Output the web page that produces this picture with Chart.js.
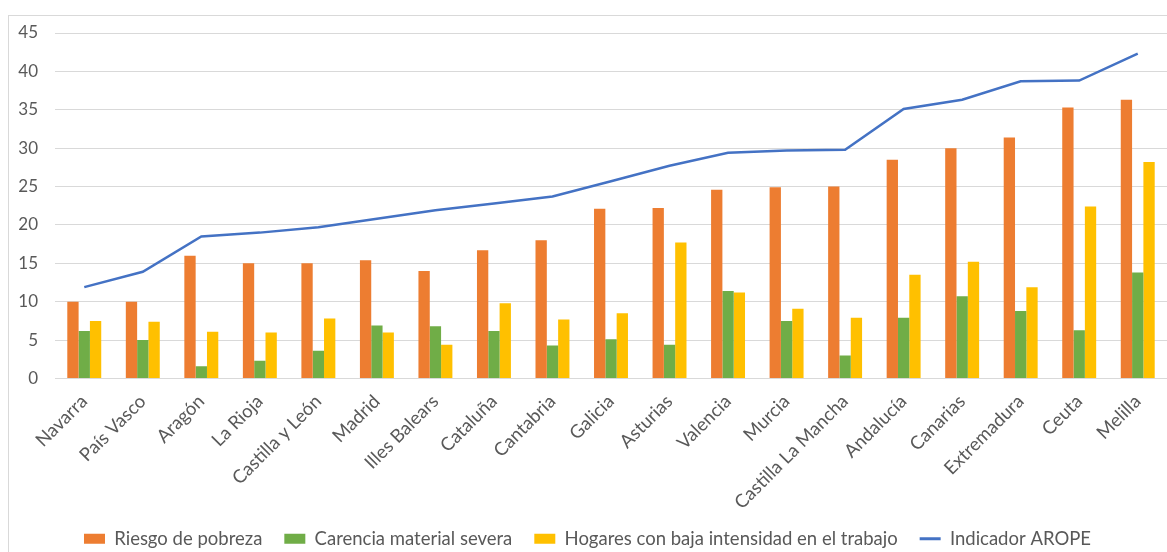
<!DOCTYPE html>
<html>
<head>
<meta charset="utf-8">
<script src="https://cdn.jsdelivr.net/npm/chart.js@4/dist/chart.umd.min.js"></script>
<style>
  html, body { margin: 0; padding: 0; background: #fff; }
  #wrap { position: relative; width: 1167px; height: 552px; overflow: hidden; }
  #frame { position: absolute; left: 8px; top: 15px; width: 1300px; height: 700px;
           border: 1px solid #d9d9d9; box-sizing: border-box; }
  canvas { position: absolute; left: 0; top: 0; }
</style>
</head>
<body>
<div id="wrap">
  <div id="frame"></div>
  <canvas id="chart" width="1167" height="562"></canvas>
</div>
<script>
// Comunidades autónomas, ordered by the AROPE indicator
var regiones = ['Navarra', 'País Vasco', 'Aragón', 'La Rioja', 'Castilla y León', 'Madrid',
  'Illes Balears', 'Cataluña', 'Cantabria', 'Galicia', 'Asturias', 'Valencia', 'Murcia',
  'Castilla La Mancha', 'Andalucía', 'Canarias', 'Extremadura', 'Ceuta', 'Melilla'];

var riesgoPobreza = [10.0, 10.0, 16.0, 15.0, 15.0, 15.4, 14.0, 16.7, 18.0, 22.1, 22.2, 24.6, 24.9,
  25.0, 28.5, 30.0, 31.4, 35.3, 36.3];
var carenciaMaterial = [6.2, 5.0, 1.6, 2.3, 3.6, 6.9, 6.8, 6.2, 4.3, 5.1, 4.4, 11.4, 7.5,
  3.0, 7.9, 10.7, 8.8, 6.3, 13.8];
var bajaIntensidad = [7.5, 7.4, 6.1, 6.0, 7.8, 6.0, 4.4, 9.8, 7.7, 8.5, 17.7, 11.2, 9.1,
  7.9, 13.5, 15.2, 11.9, 22.4, 28.2];
var indicadorArope = [11.9, 13.9, 18.5, 19.0, 19.7, 20.8, 21.9, 22.8, 23.7, 25.7, 27.7, 29.4, 29.7,
  29.8, 35.1, 36.3, 38.7, 38.8, 42.3];

var yTicks = [0, 5, 10, 15, 20, 25, 30, 35, 40, 45];

var textColor = '#595959';
var gridColor = '#d9d9d9';
var fontFamily = 'Lato, "Open Sans", sans-serif';

var ctx = document.getElementById('chart').getContext('2d');

new Chart(ctx, {
  data: {
    labels: regiones,
    datasets: [
      { type: 'bar', label: 'Riesgo de pobreza', data: riesgoPobreza,
        backgroundColor: '#ED7D31', pointStyle: 'rect' },
      { type: 'bar', label: 'Carencia material severa', data: carenciaMaterial,
        backgroundColor: '#70AD47', pointStyle: 'rect' },
      { type: 'bar', label: 'Hogares con baja intensidad en el trabajo', data: bajaIntensidad,
        backgroundColor: '#FFC000', pointStyle: 'rect' },
      { type: 'line', label: 'Indicador AROPE', data: indicadorArope,
        borderColor: '#4472C4', backgroundColor: '#4472C4', borderWidth: 2.5,
        pointRadius: 0, tension: 0, fill: false, pointStyle: 'line' }
    ]
  },
  options: {
    responsive: false,
    animation: false,
    devicePixelRatio: 1,
    layout: { padding: { left: 8, top: 33, right: 0, bottom: 4 } },
    datasets: {
      bar: { categoryPercentage: 0.58, barPercentage: 1.0 }
    },
    plugins: {
      tooltip: { enabled: false },
      legend: {
        position: 'bottom',
        labels: {
          usePointStyle: true,
          pointStyleWidth: 21,
          boxWidth: 21,
          boxHeight: 10,
          padding: 22,
          color: textColor,
          font: { family: fontFamily, size: 18.5 },
          generateLabels: function (chart) {
            return chart.data.datasets.map(function (ds, i) {
              var isLine = ds.type === 'line';
              return {
                text: ds.label,
                fillStyle: ds.backgroundColor,
                strokeStyle: isLine ? ds.borderColor : ds.backgroundColor,
                lineWidth: isLine ? 3 : 0,
                pointStyle: ds.pointStyle,
                fontColor: textColor,
                hidden: false,
                datasetIndex: i
              };
            });
          }
        }
      }
    },
    scales: {
      x: {
        grid: { display: false, drawTicks: false },
        border: { display: true, color: gridColor, width: 1 },
        ticks: {
          color: textColor,
          font: { family: fontFamily, size: 18.5 },
          maxRotation: 45,
          minRotation: 45,
          autoSkip: false,
          padding: 12
        },
        afterFit: function (scale) { scale.height = 129; }
      },
      y: {
        min: 0,
        max: 45,
        afterBuildTicks: function (scale) {
          scale.ticks = yTicks.map(function (v) { return { value: v }; });
        },
        grid: { color: gridColor, lineWidth: 1, drawTicks: false },
        border: { display: false },
        ticks: {
          color: textColor,
          font: { family: fontFamily, size: 17 },
          padding: 17
        },
        afterFit: function (scale) { scale.width = 47; }
      }
    }
  }
});
</script>
</body>
</html>
